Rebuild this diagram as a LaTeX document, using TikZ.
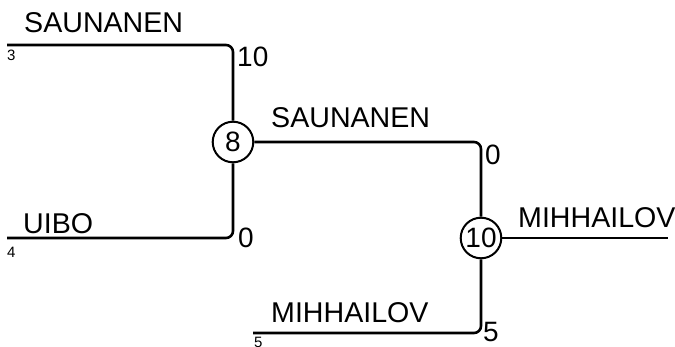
\documentclass[tikz,border=0pt]{standalone}
\usepackage{fontspec}
\setmainfont{Liberation Sans}
\begin{document}
\begin{tikzpicture}[x=1pt,y=1pt,line join=round,
	player/.style={anchor=base west,inner sep=0pt,font=\fontsize{28.6}{31}\selectfont},
	score/.style={anchor=north west,inner sep=0pt,font=\fontsize{28}{31}\selectfont},
	seednum/.style={anchor=north west,inner sep=0pt,font=\fontsize{15}{17}\selectfont},
	game/.style={circle,draw,line width=2pt,minimum size=40.6pt,inner sep=0pt,font=\fontsize{28}{31}\selectfont},
	bracket/.style={line width=2.6pt,rounded corners=7pt}]
		\useasboundingbox (0,0) rectangle (675,346);
		\node[game] (g8) at (233,204) {8};
		\node[game] (g10) at (481,108) {10};
		\coordinate (p3) at (7,301);
		\coordinate (p4) at (7,108);
		\coordinate (p5) at (253,13);
		\coordinate (win) at (668,108);
		\draw[bracket] (p3) -| (g8);
		\draw[bracket] (p4) -| (g8);
		\draw[bracket] (g8) -| (g10);
		\draw[bracket] (p5) -| (g10);
		\draw[bracket] (g10) -- (win);
		\node[player] (sau1) at (24,313) {SAUNANEN};
		\node[player] (uibo) at (23,113) {UIBO};
		\node[player] (sau2) at (271,218) {SAUNANEN};
		\node[player] (mih1) at (271,24) {MIHHAILOV};
		\node[player] (mih2) at (518,119) {MIHHAILOV};
		\node[seednum] (s3) at (7,296) {3};
		\node[seednum] (s4) at (7,99) {4};
		\node[seednum] (s5) at (254,9) {5};
		\node[score] (r10) at (237,299) {10};
		\node[score] (r0a) at (238,118) {0};
		\node[score] (r0b) at (485,201) {0};
		\node[score] (r5) at (483,24) {5};
\end{tikzpicture}
\end{document}
